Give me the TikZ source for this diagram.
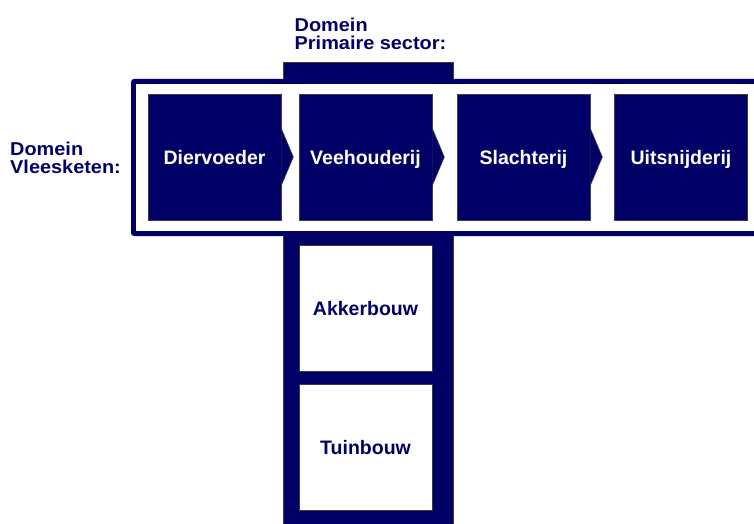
\documentclass[tikz,border=0pt]{standalone}
\usepackage{fontspec}
\setmainfont{Liberation Sans}
\newfontfamily\widesans[FakeStretch=1.07]{Liberation Sans}
\definecolor{navy}{RGB}{0,0,102}
\definecolor{edge}{RGB}{60,60,70}
\begin{document}
\begin{tikzpicture}[x=1pt,y=-1pt,
  lbl/.style={font=\bfseries\fontsize{19.5}{18.5}\selectfont},
  chainbox/.style={rectangle, fill=navy, draw=edge, line width=0.6pt, minimum width=133pt, minimum height=126pt, inner sep=0pt, text height=18pt, text depth=4pt, text=white, lbl},
  sectorbox/.style={rectangle, fill=white, draw=edge, line width=0.6pt, minimum width=133pt, minimum height=126pt, inner sep=0pt, text height=18pt, text depth=4pt, text=navy, lbl},
  domlabel/.style={anchor=north west, inner sep=0pt, align=left, text=navy, font=\widesans\bfseries\fontsize{18.6}{18.5}\selectfont},
  chev/.style={fill=navy, draw=edge, line width=0.6pt, line join=miter}
]
\useasboundingbox (0,0) rectangle (754,524);
\clip (0,0) rectangle (754,524);
\fill[white] (0,0) rectangle (754,524);

% vertical bar (Primaire sector)
\path[fill=navy, draw=edge, line width=0.6pt] (283,62) rectangle (453,530);
% horizontal bar (Vleesketen)
\path[fill=navy, rounded corners=3pt] (131,79) rectangle (770,236);
\path[fill=white] (136,84) rectangle (770,231);

% chain boxes
\node[chainbox] (dier)  at (214.5,157) {Diervoeder};
\node[chainbox] (vee)   at (365.5,157) {Veehouderij};
\node[chainbox] (slacht) at (523.5,157) {Slachterij};
\node[chainbox] (uits)  at (681,157) {Uitsnijderij};

% chevrons
\foreach \b in {dier,vee,slacht}{
  \path[chev] (\b.east) ++(0,-28.5) -- ++(12,28.5) -- ++(-12,28.5);
}

% sector boxes
\node[sectorbox] (akker) at (365.5,308) {Akkerbouw};
\node[sectorbox] (tuin)  at (365.5,447) {Tuinbouw};

% domain labels
\node[domlabel] (lvlees) at (10,141.6) {Domein\\Vleesketen:};
\node[domlabel] (lprim)  at (294.5,17.4) {Domein\\Primaire sector:};
\end{tikzpicture}
\end{document}
